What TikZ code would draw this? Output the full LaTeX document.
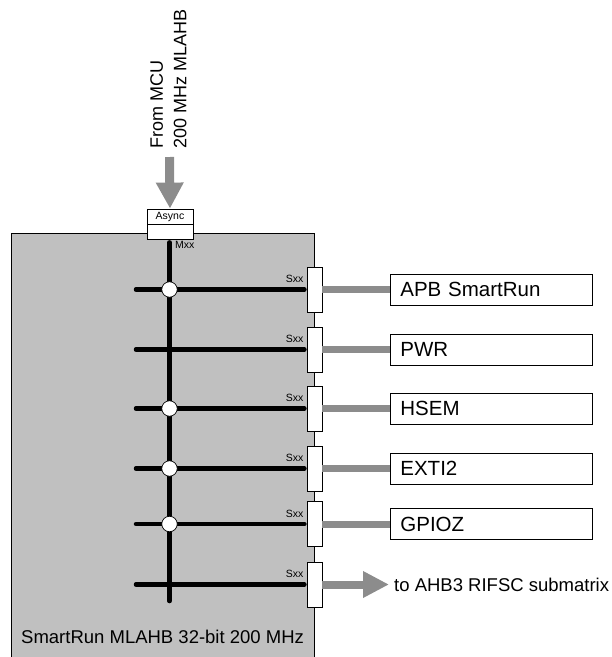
\documentclass[tikz,border=0pt]{standalone}
\usepackage{fontspec}
\setmainfont{Liberation Sans}
\usepackage{xcolor}
\usetikzlibrary{arrows.meta, positioning}

\definecolor{matrixgrey}{gray}{0.753}
\definecolor{linkgrey}{gray}{0.55}

\begin{document}
\begin{tikzpicture}[x=1pt, y=-1pt,
  box/.style={draw, line width=0.8pt, inner sep=0pt},
  async/.style={box, fill=white, minimum width=46pt, minimum height=15pt, font=\fontsize{10.5}{12}\selectfont},
  slv/.style={box, fill=white, minimum width=15pt, minimum height=45pt},
  per/.style={box, fill=white, anchor=west, text width=182pt, inner xsep=10pt, minimum height=31pt, font=\fontsize{20.5}{24}\selectfont},
  port/.style={font=\fontsize{10.5}{12}\selectfont, inner sep=0pt},
  xbar/.style={line width=4.5pt, line cap=round},
  hub/.style={circle, draw, fill=white, line width=0.7pt, minimum size=15.5pt, inner sep=0pt},
  link/.style={linkgrey, line width=7pt},
  bigarr/.style={linkgrey},
]
\useasboundingbox (0,0) rectangle (612,657);

% MLAHB matrix
\node[box, fill=matrixgrey, anchor=north west, minimum width=303pt, minimum height=426pt] (mlahb) at (11,233) {};
\node[anchor=base west, inner sep=0pt, font=\fontsize{18.5}{22}\selectfont] (title) at (21,643) {SmartRun MLAHB 32-bit 200 MHz};

% async bridge + input
\node[async] (asynctop) at (170,216.5) {Async};
\node[async, below=0pt of asynctop] (asyncbot) {};
\node[rotate=90, anchor=west, align=left, inner sep=0pt, font=\fontsize{18}{23.5}\selectfont] (src) at (168.5,149) {From MCU\\200 MHz MLAHB};
\coordinate (inlet) at (169.5,157);
\draw[bigarr, line width=9pt, -{Triangle[length=26pt, width=26pt]}] (inlet) -- (asynctop.north);

% slave ports
\node[slv] (s1) at (314.5,289.5) {};
\node[slv] (s2) at (314.5,349.5) {};
\node[slv] (s3) at (314.5,408.5) {};
\node[slv] (s4) at (314.5,468.5) {};
\node[slv] (s5) at (314.5,524) {};
\node[slv] (s6) at (314.5,584.5) {};

% bus
\coordinate (busend) at (169.5,601);
\draw[xbar, shorten <=2.2pt] (asyncbot.south -| busend) -- (busend);
\node[port, anchor=west] (mxx) at (175,245) {Mxx};

\coordinate (b1) at (136,289.5);
\coordinate (b2) at (136,349.5);
\coordinate (b3) at (136,408.5);
\coordinate (b4) at (136,468.5);
\coordinate (b5) at (136,524);
\coordinate (b6) at (136,584.5);
\draw[xbar, shorten >=2.2pt] (b1) -- (s1.west);
\draw[xbar, shorten >=2.2pt] (b2) -- (s2.west);
\draw[xbar, shorten >=2.2pt] (b3) -- (s3.west);
\draw[xbar, shorten >=2.2pt] (b4) -- (s4.west);
\draw[xbar, shorten >=2.2pt] (b5) -- (s5.west);
\draw[xbar, shorten >=2.2pt] (b6) -- (s6.west);

% connections on the bus
\node[hub] (h1) at (b1 -| busend) {};
\node[hub] (h3) at (b3 -| busend) {};
\node[hub] (h4) at (b4 -| busend) {};
\node[hub] (h5) at (b5 -| busend) {};

\node[port, anchor=base east] (x1) at ([shift={(-3pt,7pt)}]s1.west) {Sxx};
\node[port, anchor=base east] (x2) at ([shift={(-3pt,7pt)}]s2.west) {Sxx};
\node[port, anchor=base east] (x3) at ([shift={(-3pt,7pt)}]s3.west) {Sxx};
\node[port, anchor=base east] (x4) at ([shift={(-3pt,7pt)}]s4.west) {Sxx};
\node[port, anchor=base east] (x5) at ([shift={(-3pt,7pt)}]s5.west) {Sxx};
\node[port, anchor=base east] (x6) at ([shift={(-3pt,7pt)}]s6.west) {Sxx};

% peripherals
\node[per] (p1) at (390,289.5) {APB SmartRun};
\node[per] (p2) at (390,349.5) {PWR};
\node[per] (p3) at (390,408.5) {HSEM};
\node[per] (p4) at (390,468.5) {EXTI2};
\node[per] (p5) at (390,524) {GPIOZ};
\node[anchor=west, inner xsep=5pt, font=\fontsize{18.5}{22}\selectfont] (ahb3) at (389,584.5) {to AHB3 RIFSC submatrix};

\draw[link] (s1.east) -- (p1.west);
\draw[link] (s2.east) -- (p2.west);
\draw[link] (s3.east) -- (p3.west);
\draw[link] (s4.east) -- (p4.west);
\draw[link] (s5.east) -- (p5.west);
\draw[bigarr, line width=8pt, -{Triangle[length=26pt, width=25pt]}] (s6.east) -- (ahb3.west);

\end{tikzpicture}
\end{document}
